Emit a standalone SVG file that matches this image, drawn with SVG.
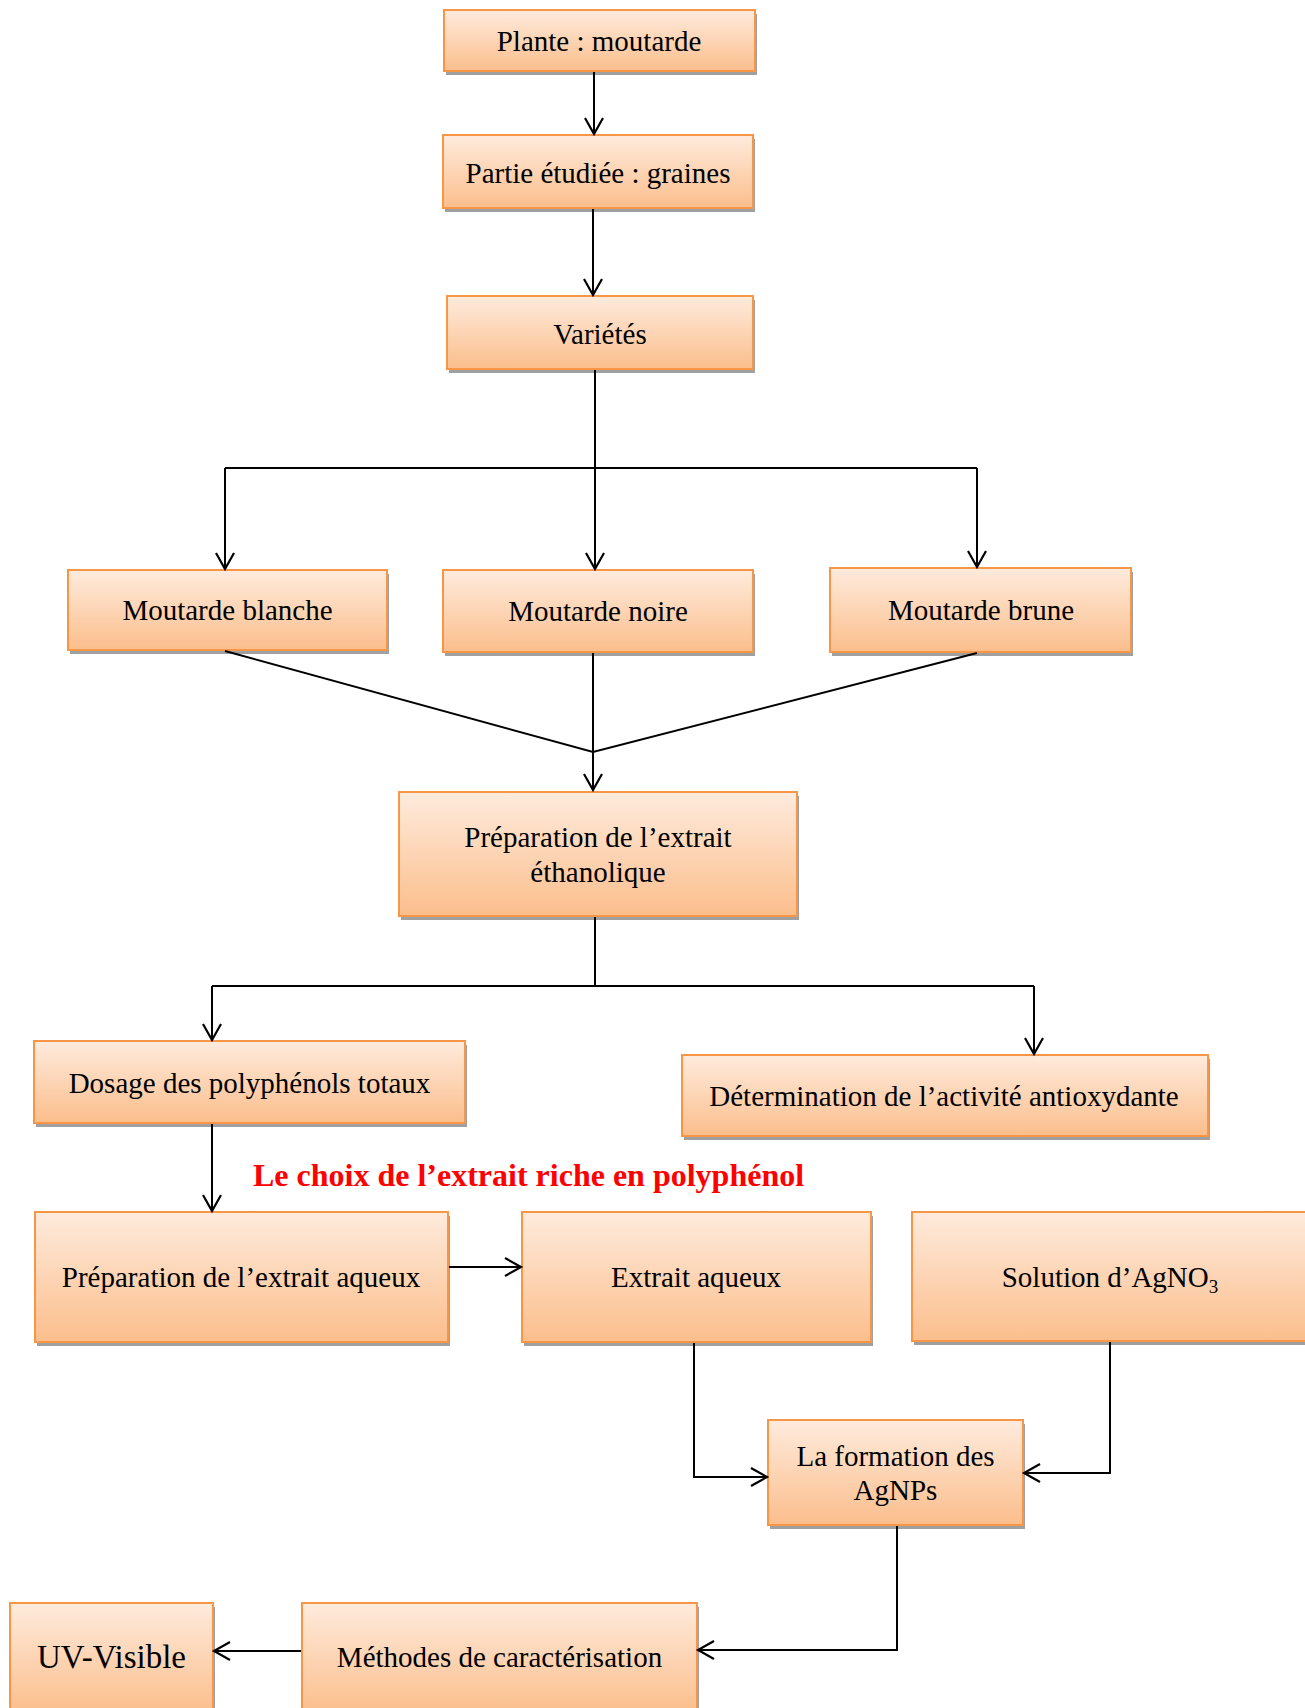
<svg xmlns="http://www.w3.org/2000/svg" width="1305" height="1708" viewBox="0 0 1305 1708">
<defs>
<linearGradient id="g" x1="0" y1="0" x2="0" y2="1">
<stop offset="0" stop-color="#FEEBDD"/>
<stop offset="1" stop-color="#FBBE8C"/>
</linearGradient>
<marker id="ah" viewBox="-18 -11 20 22" refX="0" refY="0" markerWidth="20" markerHeight="22" markerUnits="userSpaceOnUse" orient="auto" overflow="visible">
<path d="M-16,-9 L0,0 L-16,9" fill="none" stroke="#000" stroke-width="2.2"/>
</marker>
</defs>
<style>
.sh{fill:#A0A0A0}
.bx{fill:url(#g);stroke:#F79646;stroke-width:2}
.t{font-family:"Liberation Serif","Times New Roman",serif;font-size:29px;fill:#000;text-anchor:middle}
.big{font-size:33px}
.c{fill:none;stroke:#000;stroke-width:2}
.a{marker-end:url(#ah)}
</style>
<rect width="1305" height="1708" fill="#fff"/>

<g id="n1"><rect class="sh" x="446" y="14" width="311" height="61"/><rect class="bx" x="444" y="10" width="311" height="61"/><text class="t" x="599" y="51">Plante : moutarde</text></g>
<g id="n2"><rect class="sh" x="445" y="139" width="310" height="73"/><rect class="bx" x="443" y="135" width="310" height="73"/><text class="t" x="598" y="183">Partie étudiée : graines</text></g>
<g id="n3"><rect class="sh" x="449" y="300" width="306" height="73"/><rect class="bx" x="447" y="296" width="306" height="73"/><text class="t" x="600" y="344">Variétés</text></g>
<g id="n4"><rect class="sh" x="70" y="574" width="319" height="80"/><rect class="bx" x="68" y="570" width="319" height="80"/><text class="t" x="227.5" y="620">Moutarde blanche</text></g>
<g id="n5"><rect class="sh" x="445" y="574" width="310" height="82"/><rect class="bx" x="443" y="570" width="310" height="82"/><text class="t" x="598" y="621">Moutarde noire</text></g>
<g id="n6"><rect class="sh" x="832" y="572" width="301" height="84"/><rect class="bx" x="830" y="568" width="301" height="84"/><text class="t" x="981" y="620">Moutarde brune</text></g>
<g id="n7"><rect class="sh" x="401" y="796" width="398" height="124"/><rect class="bx" x="399" y="792" width="398" height="124"/><text class="t" x="598" y="847">Préparation de l’extrait</text><text class="t" x="598" y="882">éthanolique</text></g>
<g id="n8"><rect class="sh" x="36" y="1045" width="431" height="82"/><rect class="bx" x="34" y="1041" width="431" height="82"/><text class="t" x="249.5" y="1093">Dosage des polyphénols totaux</text></g>
<g id="n9"><rect class="sh" x="684" y="1059" width="526" height="81"/><rect class="bx" x="682" y="1055" width="526" height="81"/><text class="t" x="944" y="1106">Détermination de l’activité antioxydante</text></g>
<text x="253" y="1186" font-family="Liberation Serif, Times New Roman, serif" font-size="32" font-weight="bold" fill="#FF0000">Le choix de l’extrait riche en polyphénol</text>
<g id="n10"><rect class="sh" x="37" y="1216" width="413" height="130"/><rect class="bx" x="35" y="1212" width="413" height="130"/><text class="t" x="241" y="1287">Préparation de l’extrait aqueux</text></g>
<g id="n11"><rect class="sh" x="524" y="1216" width="349" height="130"/><rect class="bx" x="522" y="1212" width="349" height="130"/><text class="t" x="696" y="1287">Extrait aqueux</text></g>
<g id="n12"><rect class="sh" x="914" y="1216" width="400" height="129"/><rect class="bx" x="912" y="1212" width="400" height="129"/><text class="t" x="1110" y="1287">Solution d’AgNO<tspan font-size="19" dy="6">3</tspan></text></g>
<g id="n13"><rect class="sh" x="770" y="1424" width="255" height="105"/><rect class="bx" x="768" y="1420" width="255" height="105"/><text class="t" x="895.5" y="1466">La formation des</text><text class="t" x="895.5" y="1500">AgNPs</text></g>
<g id="n14"><rect class="sh" x="304" y="1607" width="395" height="110"/><rect class="bx" x="302" y="1603" width="395" height="110"/><text class="t" x="499.5" y="1667">Méthodes de caractérisation</text></g>
<g id="n15"><rect class="sh" x="12" y="1607" width="203" height="110"/><rect class="bx" x="10" y="1603" width="203" height="110"/><text class="t big" x="111.5" y="1668">UV-Visible</text></g>

<g id="connectors">
<path class="c a" d="M594,72 V134"/>
<path class="c a" d="M593,209 V295"/>
<path class="c" d="M595,370 V468 M225,468 H977"/>
<path class="c a" d="M225,468 V569"/>
<path class="c a" d="M595,468 V569"/>
<path class="c a" d="M977,468 V567"/>
<path class="c" d="M225,651 L593,752 L977,653"/>
<path class="c a" d="M593,653 V790"/>
<path class="c" d="M595,917 V986 M212,986 H1034"/>
<path class="c a" d="M212,986 V1040"/>
<path class="c a" d="M1034,986 V1054"/>
<path class="c a" d="M212,1124 V1211"/>
<path class="c a" d="M449,1267 H521"/>
<path class="c a" d="M694,1343 V1477 H767"/>
<path class="c a" d="M1110,1342 V1473 H1024"/>
<path class="c a" d="M897,1526 V1650 H698"/>
<path class="c a" d="M301,1651 H214"/>
</g>
</svg>
